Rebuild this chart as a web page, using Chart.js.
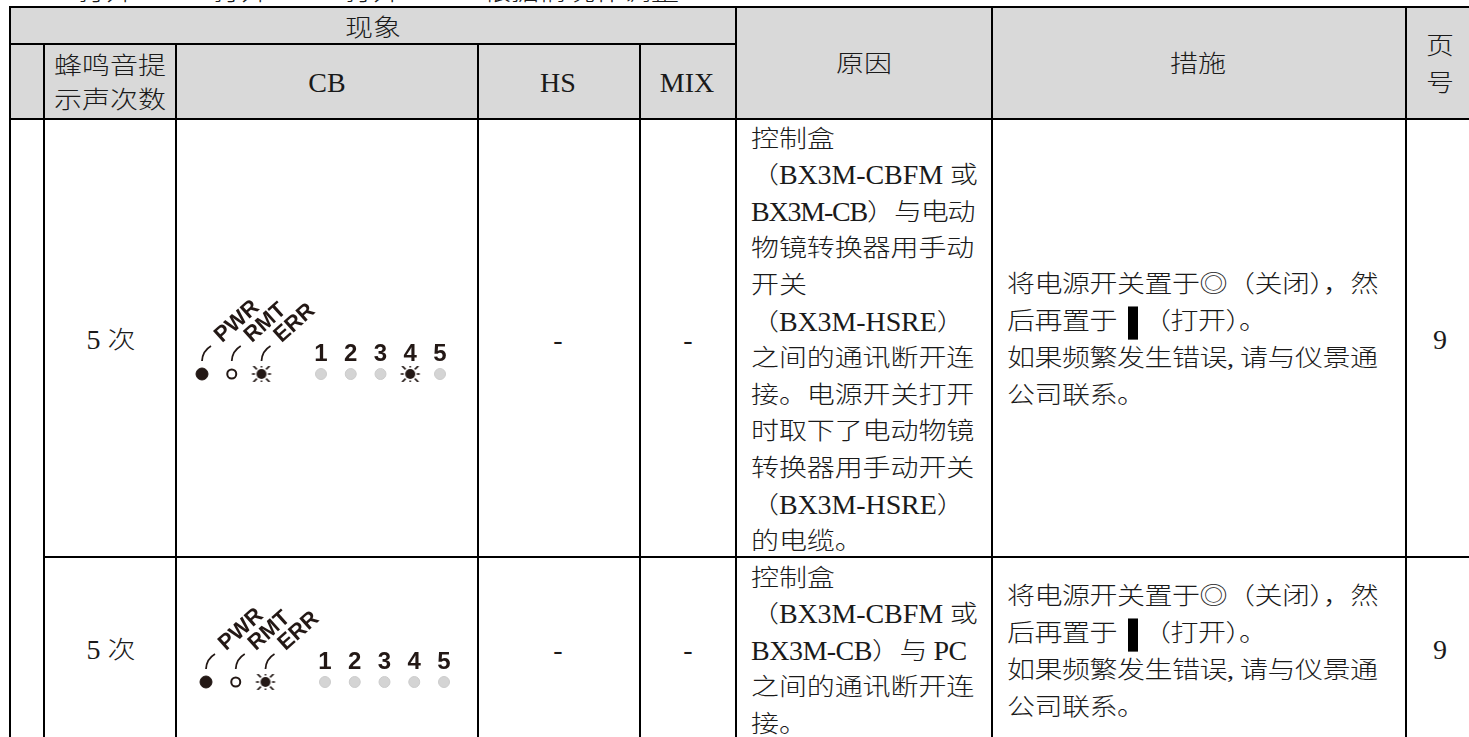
<!DOCTYPE html>
<html lang="zh-CN">
<head>
<meta charset="UTF-8">
<title>现象 原因 措施</title>
<script src="https://cdn.jsdelivr.net/npm/chart.js"></script>
<style>
    html, body { margin: 0; padding: 0; background: #fff; }
    #page {
        position: relative;
        width: 1469px;
        height: 737px;
        overflow: hidden;
        font-family: "Liberation Serif", "Noto Sans CJK SC", serif;
        font-size: 28px;
        font-weight: 300;
        color: #1a1a1a;
    }
    .fill { position: absolute; background: #d9d9d9; }
    .rule { position: absolute; background: #000; }
    .ln {
        position: absolute;
        height: 37px;
        line-height: 37px;
        white-space: pre;
        transform: scaleY(0.85);
    }
    .center { transform: translate(-50%, 0) scaleY(0.85); }
    /* latin runs keep their full height, only the CJK glyphs are squat */
    .lat { display: inline-block; transform: scaleY(1.176); }
    .bar {
        display: inline-block;
        width: 10px;
        height: 39px;
        margin: 0 5px 0 11px;
        background: #000;
        vertical-align: middle;
    }
    #strip { position: absolute; left: 0; top: 0; width: 1469px; height: 4px; overflow: hidden; }
    canvas { position: absolute; filter: blur(0.5px); }
</style>
</head>
<body>
<div id="page">
    <div id="strip"></div>
    <canvas id="led1" width="290" height="120" style="left:180px;top:280px"></canvas>
    <canvas id="led2" width="290" height="120" style="left:184px;top:588px"></canvas>
</div>
<script>
    // LED panels
    const ledLabels = ['PWR', 'RMT', 'ERR', '', '1', '2', '3', '4', '5'];
    const ledLevels = [0, 0, 0, null, 0, 0, 0, 0, 0];
    const row1States = ['on', 'ring', 'blink', 'off', 'off', 'off', 'off', 'blink', 'off'];
    const row2States = ['on', 'ring', 'blink', 'off', 'off', 'off', 'off', 'off', 'off'];

    // table text
    const clippedTop = ['打开', '打开', '打开', '根据情况作调整'];
    const headPhenomenon = '现象';
    const headBeep = ['蜂鸣音提', '示声次数'];
    const headIndicators = ['CB', 'HS', 'MIX'];
    const headCause = '原因';
    const headAction = '措施';
    const headPage = ['页', '号'];
    const beepCount = '5 次';
    const dash = '-';
    const pageNo = '9';
    const cause1 = ['控制盒', '（BX3M-CBFM 或', 'BX3M-CB）与电动', '物镜转换器用手动', '开关', '（BX3M-HSRE）',
        '之间的通讯断开连', '接。电源开关打开', '时取下了电动物镜', '转换器用手动开关', '（BX3M-HSRE）', '的电缆。'];
    const cause2 = ['控制盒', '（BX3M-CBFM 或', 'BX3M-CB）与 PC', '之间的通讯断开连', '接。'];
    const action1 = ['将电源开关置于◎（关闭），然', '后再置于|（打开）。', '如果频繁发生错误, 请与仪景通', '公司联系。'];
    const action2 = ['将电源开关置于◎（关闭），然', '后再置于|（打开）。', '如果频繁发生错误, 请与仪景通', '公司联系。'];

    const page = document.getElementById('page');

    function addBox(cls, x, y, w, h) {
        const d = document.createElement('div');
        d.className = cls;
        d.style.cssText = `left:${x}px;top:${y}px;width:${w}px;height:${h}px`;
        page.insertBefore(d, page.firstChild);
    }

    function addRuns(parent, text) {
        text.split(/([A-Za-z0-9\-]+)/).forEach((run, i) => {
            if (i % 2) {
                const s = document.createElement('span');
                s.className = 'lat';
                s.textContent = run;
                parent.append(s);
            } else if (run) {
                parent.append(run);
            }
        });
    }

    function addLine(text, x, yCenter, centered, spacing) {
        const d = document.createElement('div');
        d.className = centered ? 'ln center' : 'ln';
        d.style.left = x + 'px';
        d.style.top = (yCenter - 18.5) + 'px';
        if (spacing) d.style.letterSpacing = spacing + 'px';
        if (text.includes('|')) {
            const parts = text.split('|');
            d.append(parts[0]);
            const bar = document.createElement('span');
            bar.className = 'bar';
            d.append(bar, parts[1]);
        } else {
            addRuns(d, text);
        }
        page.appendChild(d);
    }

    // grey header, then rules
    addBox('rule', 9, 6, 1460, 2);
    addBox('rule', 9, 43, 727, 2);
    addBox('rule', 9, 118, 1460, 2);
    addBox('rule', 43, 556, 1426, 2);
    [9, 43, 175, 477, 639].forEach(x => addBox('rule', x, x === 9 ? 6 : 44, 2, 737));
    [735, 991, 1405].forEach(x => addBox('rule', x, 6, 2, 737));
    addBox('fill', 9, 6, 1460, 113);

    // header text
    addLine(headPhenomenon, 373, 27, true);
    headBeep.forEach((t, i) => addLine(t, 110, 65 + i * 34, true));
    addLine(headIndicators[0], 327, 82, true);
    addLine(headIndicators[1], 558, 82, true);
    addLine(headIndicators[2], 687, 82, true);
    addLine(headCause, 864, 63, true);
    addLine(headAction, 1198, 63, true);
    headPage.forEach((t, i) => addLine(t, 1440, 45 + i * 37, true));

    // body rows
    cause1.forEach((t, i) => addLine(t, 751, 138 + i * 36.6, false, t.startsWith('BX3M') ? -1.2 : -0.1));
    cause2.forEach((t, i) => addLine(t, 751, 577 + i * 36.6, false, t.startsWith('BX3M') ? -0.5 : -0.1));
    action1.forEach((t, i) => addLine(t, 1007, 283 + i * 37, false, -0.5));
    action2.forEach((t, i) => addLine(t, 1007, 595 + i * 37, false, -0.5));
    [339, 649].forEach(y => {
        addLine(beepCount, 111, y, true);
        addLine(dash, 558, y, true);
        addLine(dash, 688, y, true);
        addLine(pageNo, 1440, y, true);
    });

    // cut off line above the table
    const strip = document.getElementById('strip');
    [78, 213, 345, 483].forEach((x, i) => {
        const d = document.createElement('div');
        d.className = 'ln';
        d.textContent = clippedTop[i];
        d.style.left = x + 'px';
        d.style.top = '-27px';
        strip.appendChild(d);
    });

    // point images for the LED states
    const ink = '#231815';
    function blinkImage() {
        const c = document.createElement('canvas');
        c.width = 26; c.height = 26;
        const g = c.getContext('2d');
        g.translate(13, 13);
        g.fillStyle = ink;
        g.beginPath(); g.arc(0, 0, 5, 0, Math.PI * 2); g.fill();
        g.strokeStyle = ink;
        g.lineWidth = 1.6;
        for (let i = 0; i < 8; i++) {
            g.rotate(Math.PI / 4);
            g.beginPath(); g.moveTo(6.5, 0); g.lineTo(i % 2 ? 9.5 : 11.5, 0); g.stroke();
        }
        return c;
    }
    const blink = blinkImage();

    // stems from the PWR / RMT / ERR lamps up to their labels
    const stems = {
        id: 'stems',
        afterDatasetsDraw(chart) {
            const g = chart.ctx;
            const xs = chart.scales.x, y = chart.scales.y.getPixelForValue(0);
            g.save();
            g.strokeStyle = ink;
            g.lineWidth = 1.8;
            [0, 1, 2].forEach(i => {
                const x = xs.getPixelForValue(i);
                g.beginPath();
                g.moveTo(x, y - 13);
                g.quadraticCurveTo(x + 0.5, y - 23, x + 9, y - 28);
                g.stroke();
            });
            g.restore();
        }
    };

    const ledFont = '"Liberation Sans Narrow", "Liberation Sans", sans-serif';

    function ledChart(id, states) {
        new Chart(document.getElementById(id), {
            type: 'line',
            data: {
                labels: ledLabels,
                datasets: [{
                    data: ledLevels,
                    showLine: false,
                    pointStyle: states.map(s => s === 'blink' ? blink : 'circle'),
                    pointRadius: states.map(s => s === 'on' ? 6 : s === 'ring' ? 4.5 : s === 'off' ? 5.5 : 13),
                    pointBackgroundColor: states.map(s => s === 'on' ? ink : s === 'ring' ? '#fff' : '#d4d4d4'),
                    pointBorderColor: states.map(s => s === 'ring' ? ink : s === 'on' ? ink : '#cccccc'),
                    pointBorderWidth: states.map(s => s === 'ring' ? 2 : 1)
                }]
            },
            options: {
                responsive: false,
                animation: false,
                layout: { padding: { left: 22, right: 30, top: 86, bottom: 18 } },
                plugins: { legend: { display: false }, tooltip: { enabled: false } },
                scales: {
                    // mirror keeps the labels out of the clip box of the zero height axes
                    x: {
                        position: 'top',
                        weight: 0,
                        grid: { display: false },
                        border: { display: false },
                        ticks: {
                            autoSkip: false, minRotation: 0, maxRotation: 0, mirror: true, padding: -26, color: ink,
                            font: { family: ledFont, weight: 'bold', size: 24 },
                            callback: (v, i) => i > 3 ? ledLabels[i] : ''
                        },
                        afterFit: s => { s.height = 0; s.paddingLeft = 0; s.paddingRight = 0; }
                    },
                    names: {
                        type: 'category',
                        position: 'top',
                        weight: 1,
                        grid: { display: false },
                        border: { display: false },
                        ticks: {
                            autoSkip: false, minRotation: 42, maxRotation: 42, mirror: true, padding: -37, labelOffset: 16, color: ink,
                            font: { family: ledFont, weight: 'bold', size: 22 },
                            callback: (v, i) => i < 3 ? ledLabels[i] : ''
                        },
                        afterFit: s => { s.height = 0; s.paddingLeft = 0; s.paddingRight = 0; }
                    },
                    y: { display: false, min: -1, max: 1 }
                }
            },
            plugins: [stems]
        });
    }

    ledChart('led1', row1States);
    ledChart('led2', row2States);
</script>
</body>
</html>
